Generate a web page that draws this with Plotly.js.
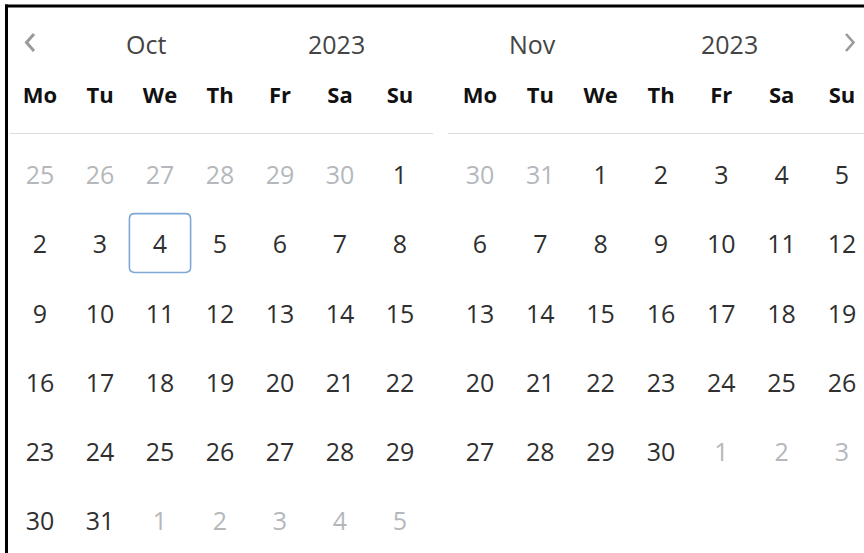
<!DOCTYPE html>
<html>
<head>
<meta charset="utf-8">
<script src="https://cdn.plot.ly/plotly-3.0.1.min.js"></script>
<style>
  html, body { margin: 0; padding: 0; background: #ffffff; }
  #chart { width: 864px; height: 553px; }
</style>
</head>
<body>
<div id="chart"></div>
<script>
// ---- data ----
const weekdays = ['Mo', 'Tu', 'We', 'Th', 'Fr', 'Sa', 'Su'];
const monthNames = ['Oct', 'Nov'];
const years = ['2023', '2023'];

const octDates = [25, 26, 27, 28, 29, 30, 1,
                  2, 3, 4, 5, 6, 7, 8,
                  9, 10, 11, 12, 13, 14, 15,
                  16, 17, 18, 19, 20, 21, 22,
                  23, 24, 25, 26, 27, 28, 29,
                  30, 31, 1, 2, 3, 4, 5];
const octOther = [1, 1, 1, 1, 1, 1, 0,
                  0, 0, 0, 0, 0, 0, 0,
                  0, 0, 0, 0, 0, 0, 0,
                  0, 0, 0, 0, 0, 0, 0,
                  0, 0, 0, 0, 0, 0, 0,
                  0, 0, 1, 1, 1, 1, 1];
const novDates = [30, 31, 1, 2, 3, 4, 5,
                  6, 7, 8, 9, 10, 11, 12,
                  13, 14, 15, 16, 17, 18, 19,
                  20, 21, 22, 23, 24, 25, 26,
                  27, 28, 29, 30, 1, 2, 3];
const novOther = [1, 1, 0, 0, 0, 0, 0,
                  0, 0, 0, 0, 0, 0, 0,
                  0, 0, 0, 0, 0, 0, 0,
                  0, 0, 0, 0, 0, 0, 0,
                  0, 0, 0, 0, 1, 1, 1];
const selectedMonth = 0;   // Oct
const selectedDay = 4;

// ---- styling ----
const W = 864, H = 553;
const FONT = '"Open Sans", "Noto Sans", "DejaVu Sans", sans-serif';
const C_DAY = '#2f2f2f';
const C_MUTED = '#b4b8bc';
const C_HEAD = '#111111';
const C_MONTH = '#444444';
const C_ARROW = '#9a9a9a';
const C_SEP = '#dcdcdc';
const C_SEL = '#7ea9d6';

const px = v => v / W;
const py = v => 1 - v / H;

function cellTrace(dates, other, xa, ya) {
  const xs = [], ys = [], txt = [], cols = [];
  dates.forEach((d, i) => {
    xs.push(i % 7);
    ys.push(Math.floor(i / 7));
    txt.push(String(d));
    cols.push(other[i] ? C_MUTED : C_DAY);
  });
  return {
    type: 'scatter', mode: 'text', x: xs, y: ys, text: txt,
    xaxis: xa, yaxis: ya, hoverinfo: 'skip', cliponaxis: false,
    textposition: 'middle center',
    textfont: { family: FONT, size: 25, color: cols }
  };
}

const data = [
  cellTrace(octDates, octOther, 'x', 'y'),
  cellTrace(novDates, novOther, 'x2', 'y')
];

// selected-day box (box sits slightly above the text centre)
const selIdx = octDates.findIndex((d, i) => d === selectedDay && !octOther[i]);
const sc = selIdx % 7, sr = Math.floor(selIdx / 7) - 0.06;
const hx = 0.51, hy = 0.425, rx = 0.09, ry = 0.075;
const x0 = sc - hx, x1 = sc + hx, y0 = sr - hy, y1 = sr + hy;
const selPath = `M ${x0 + rx},${y0} L ${x1 - rx},${y0} Q ${x1},${y0} ${x1},${y0 + ry} ` +
  `L ${x1},${y1 - ry} Q ${x1},${y1} ${x1 - rx},${y1} L ${x0 + rx},${y1} ` +
  `Q ${x0},${y1} ${x0},${y1 - ry} L ${x0},${y0 + ry} Q ${x0},${y0} ${x0 + rx},${y0} Z`;

const axisX = (domain, range) => ({
  domain: domain, range: range, side: 'top', anchor: 'y',
  tickmode: 'array', tickvals: [0, 1, 2, 3, 4, 5, 6], ticktext: weekdays,
  tickfont: { family: FONT, size: 22, color: C_HEAD, weight: 'bold' },
  ticks: 'outside', ticklen: 21, tickcolor: 'rgba(0,0,0,0)',
  showline: true, linecolor: C_SEP, linewidth: 1.2,
  showgrid: false, zeroline: false, fixedrange: true
});

const layout = {
  width: W, height: H,
  margin: { l: 0, r: 0, t: 0, b: 0, pad: 0 },
  paper_bgcolor: '#ffffff', plot_bgcolor: '#ffffff',
  showlegend: false,
  font: { family: FONT },
  xaxis: axisX([px(10), px(433)], [-0.5, 6.55]),
  xaxis2: axisX([px(448), 1], [-0.53, 6.365]),
  yaxis: {
    domain: [0, py(134)], range: [5.418, -0.636],
    showticklabels: false, showgrid: false, zeroline: false, showline: false,
    ticks: '', fixedrange: true
  },
  annotations: [
    { text: monthNames[0], x: px(146), y: py(44) },
    { text: years[0], x: px(336), y: py(44) },
    { text: monthNames[1], x: px(532), y: py(44) },
    { text: years[1], x: px(729), y: py(44) }
  ].map(a => Object.assign({
    xref: 'paper', yref: 'paper', xanchor: 'center', yanchor: 'middle',
    showarrow: false, font: { family: FONT, size: 25, color: C_MONTH }
  }, a)),
  shapes: [
    // selected day
    { type: 'path', xref: 'x', yref: 'y', path: selPath,
      line: { color: C_SEL, width: 1.6 }, fillcolor: 'rgba(0,0,0,0)' },
    // prev / next chevrons
    { type: 'path', xref: 'paper', yref: 'paper',
      path: `M ${px(34)},${py(34)} L ${px(26.5)},${py(42.5)} L ${px(34)},${py(51)}`,
      line: { color: C_ARROW, width: 3 } },
    { type: 'path', xref: 'paper', yref: 'paper',
      path: `M ${px(846)},${py(34)} L ${px(853.5)},${py(42.5)} L ${px(846)},${py(51)}`,
      line: { color: C_ARROW, width: 2.6 } },
    // black frame (top and left)
    { type: 'line', xref: 'paper', yref: 'paper', x0: px(5), x1: 1, y0: py(6), y1: py(6),
      line: { color: '#000000', width: 3 } },
    { type: 'line', xref: 'paper', yref: 'paper', x0: px(6.5), x1: px(6.5), y0: py(4.5), y1: 0,
      line: { color: '#000000', width: 3 } }
  ]
};

Plotly.newPlot('chart', data, layout, { staticPlot: true, displayModeBar: false });
</script>
</body>
</html>
